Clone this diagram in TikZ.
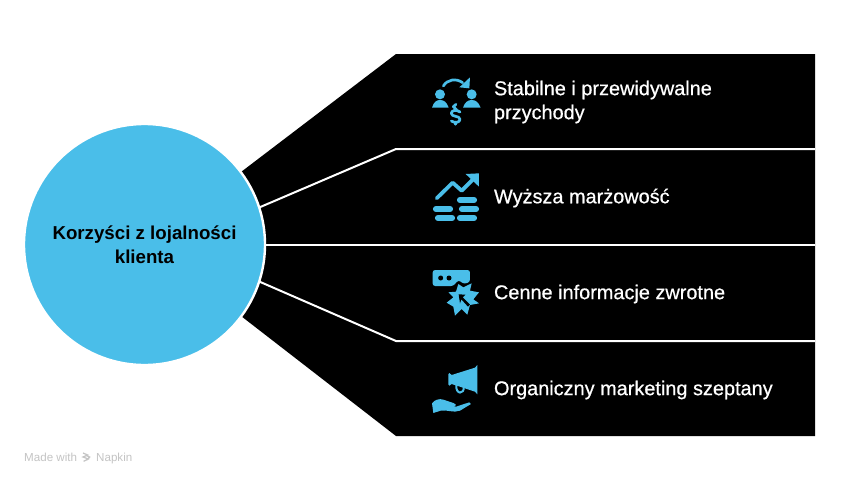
\documentclass[tikz,border=0pt]{standalone}
\usepackage{fontspec}
\setmainfont{Liberation Sans}
\newfontfamily\medfont[FakeBold=0.6]{Liberation Sans}
\newfontfamily\footfont{Liberation Sans}
\definecolor{skyb}{HTML}{4ABEE9}
\definecolor{footg}{HTML}{C4C4C4}
\tikzset{
  divider/.style={draw=white,line width=2pt,line join=miter},
  lab/.style={text=white,anchor=west,align=left,inner sep=0pt,outer sep=0pt,font=\medfont\fontsize{19.9}{24}\selectfont},
  title/.style={circle,fill=skyb,draw=white,line width=2.4pt,minimum size=241pt,inner sep=0pt,align=center,text=black,font=\bfseries\fontsize{18.7}{24}\selectfont},
  ico/.style={x=0.3333pt,y=-0.3333pt},
  icofill/.style={fill=skyb,draw=none},
  icoline/.style={draw=skyb,line width=2.7pt,line cap=round,line join=round},
  pill/.style={draw=skyb,line width=6.2pt,line cap=round},
  foot/.style={text=footg,anchor=base west,inner sep=0pt,font=\footfont\fontsize{11.6}{13}\selectfont},
}
\begin{document}
\begin{tikzpicture}[x=1pt,y=-1pt]
\useasboundingbox (0,0) rectangle (841,485);
\fill[white] (0,0) rectangle (841,485);
\fill[black] (241,172) -- (396,54) -- (815,54) -- (815,436) -- (396,436) -- (241,316) -- cycle;
\coordinate (r1) at (815,149);
\coordinate (k1) at (396,149);
\coordinate (s1) at (258,208);
\coordinate (r2) at (815,245);
\coordinate (s2) at (264,245);
\coordinate (r3) at (815,341);
\coordinate (k3) at (396,341);
\coordinate (s3) at (258,281);
\draw[divider] (s1) -- (k1) -- (r1);
\draw[divider] (s2) -- (r2);
\draw[divider] (s3) -- (k3) -- (r3);
\node[title] (hub) at (144.5,244.5) {Korzyści z lojalności\\klienta};
\node[lab] (t1) at (494,102) {Stabilne i przewidywalne\\przychody};
\node[lab] (t2) at (494,198) {Wyższa marżowość};
\node[lab] (t3) at (494,294) {Cenne informacje zwrotne};
\node[lab] (t4) at (494,390) {Organiczny marketing szeptany};
% icon 1
\begin{scope}[shift={(420,60)},ico]
\fill[icofill] (60,103) circle (15);
\fill[icofill] (155,103) circle (15);
\fill[icofill] (36,143) .. controls (41,126) and (50,120) .. (60,120) .. controls (72,120) and (80,126) .. (86,143) -- cycle;
\fill[icofill] (129,143) .. controls (134,126) and (145,120) .. (155,120) .. controls (167,120) and (175,126) .. (182,143) -- cycle;
\draw[icoline] (70,78) .. controls (82,58) and (108,54) .. (128,68);
\fill[icofill] (150,52) -- (148,85) -- (118,82) -- cycle;
\draw[icoline] (120,156) .. controls (110,148) and (94,150) .. (94,160) .. controls (94,172) and (120,166) .. (120,178) .. controls (120,188) and (104,190) .. (94,183);
\draw[icoline] (110,150) -- (100,140) -- (108,133);
\draw[icoline] (107,187) -- (107,193);
\end{scope}
% icon 2
\begin{scope}[shift={(420,160)},ico]
\draw[draw=skyb,line width=3.8pt,line cap=round,line join=round] (50,115) -- (98,68) -- (125,92) -- (160,57);
\fill[icofill] (137,42) -- (177,40) -- (177,80) -- cycle;
\draw[pill] (120,120) -- (162,120);
\draw[pill] (48,147) -- (90,147);
\draw[pill] (126,147) -- (168,147);
\draw[pill] (54,174) -- (96,174);
\draw[pill] (120,174) -- (162,174);
\end{scope}
% icon 3
\begin{scope}[shift={(420,260)},ico]
\fill[icofill,rounded corners=2.5pt] (38,30) -- (150,30) -- (150,66) -- (132,72) -- (115,60) -- (100,78) -- (38,78) -- cycle;
\fill[black] (62,54) circle (7.5);
\fill[black] (87,54) circle (7.5);
\fill[icofill] (115,72) -- (130,82) -- (155,70) -- (150,92) -- (177,97) -- (160,118) -- (177,130) -- (150,135) -- (142,164) -- (125,147) -- (105,167) -- (100,140) -- (80,128) -- (100,112) -- (85,97) -- (108,95) -- cycle;
\fill[black] (116,103) -- (136,104) -- (128,112) -- (150,134) -- (144,140) -- (124,118) -- (120,130) -- cycle;
\end{scope}
% icon 4
\begin{scope}[shift={(420,355)},ico]
\fill[icofill] (85,58) -- (88,54) -- (95,60) -- (165,38) -- (172,30) -- (172,118) -- (165,110) -- (95,87) -- (88,92) -- (85,88) -- cycle;
\draw[draw=skyb,line width=2pt] (109,88) .. controls (105,120) and (135,120) .. (131,94);
\fill[icofill] (36,145) .. controls (44,134) and (58,130) .. (70,134) -- (100,144) .. controls (110,148) and (110,153) .. (100,153) -- (108,155) -- (148,142) -- (153,147) -- (120,167) .. controls (100,175) and (80,163) .. (62,167) -- (40,174) -- cycle;
\end{scope}
% footer
\node[foot] (made) at (24,461) {Made with};
\node[foot] (napkin) at (96,461) {Napkin};
\begin{scope}[shift={(10,440)},ico]
\draw[draw=footg,line width=1.2pt] (219,39) -- (233,45) -- (219,51) -- (235,57) -- (221,64);
\draw[draw=footg,line width=1.2pt] (228,46) -- (239,51) -- (230,60);
\end{scope}
\end{tikzpicture}
\end{document}
